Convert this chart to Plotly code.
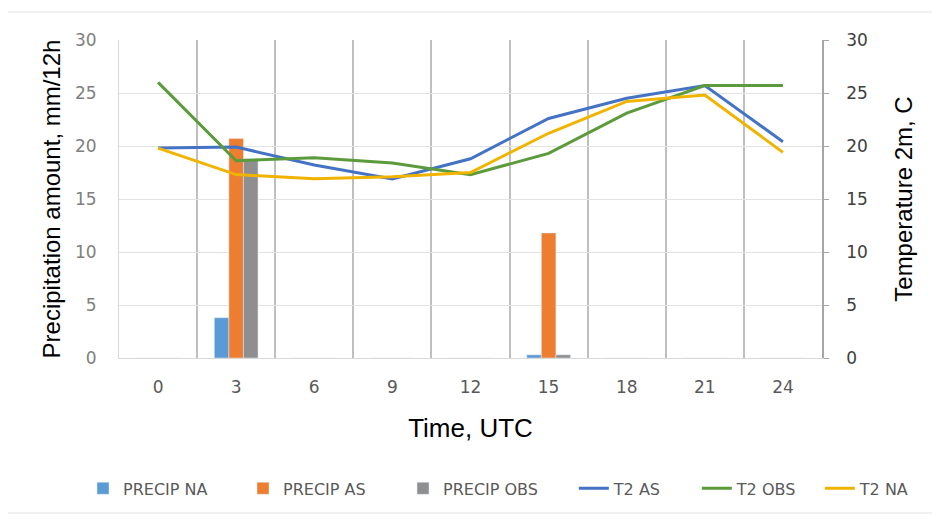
import plotly.graph_objects as go

time_labels = ["0", "3", "6", "9", "12", "15", "18", "21", "24"]
precip_na = [0, 3.8, 0, 0, 0, 0.3, 0, 0, 0]
precip_as = [0, 20.7, 0, 0, 0, 11.8, 0, 0, 0]
precip_obs = [0, 18.8, 0, 0, 0, 0.3, 0, 0, 0]
t2_as = [19.8, 19.9, 18.2, 16.9, 18.8, 22.6, 24.5, 25.7, 20.4]
t2_obs = [26.0, 18.6, 18.9, 18.4, 17.3, 19.3, 23.1, 25.7, 25.7]
t2_na = [19.8, 17.3, 16.9, 17.1, 17.5, 21.2, 24.2, 24.8, 19.4]
y_ticks = [0, 5, 10, 15, 20, 25, 30]

TICK_FONT = "DejaVu Sans"
TITLE_FONT = "Liberation Sans, Arial, sans-serif"

fig = go.Figure()
fig.add_trace(go.Bar(x=time_labels, y=precip_na, name="PRECIP NA", marker_color="#5B9BD5", yaxis="y"))
fig.add_trace(go.Bar(x=time_labels, y=precip_as, name="PRECIP AS", marker_color="#ED7D31", yaxis="y"))
fig.add_trace(go.Bar(x=time_labels, y=precip_obs, name="PRECIP OBS", marker_color="#8F8F8F", yaxis="y"))
fig.add_trace(go.Scatter(x=time_labels, y=t2_as, name="T2 AS", mode="lines", legend="legend2",
                         line=dict(color="#4472C4", width=3), yaxis="y2"))
fig.add_trace(go.Scatter(x=time_labels, y=t2_obs, name="T2 OBS", mode="lines", legend="legend2",
                         line=dict(color="#5B9B3C", width=3), yaxis="y2"))
fig.add_trace(go.Scatter(x=time_labels, y=t2_na, name="T2 NA", mode="lines", legend="legend2",
                         line=dict(color="#F0B400", width=3), yaxis="y2"))

legend_font = dict(family=TICK_FONT, size=16, color="#595959")

# page body has an 8px margin, so the figure is offset by 8px
fig.update_layout(
    width=932, height=511,
    margin=dict(l=111, r=118, t=32, b=161, autoexpand=False),
    paper_bgcolor="white", plot_bgcolor="white",
    barmode="group", bargap=0.44, bargroupgap=0,
    showlegend=True,
    legend=dict(orientation="h", x=-0.0512, xanchor="left", y=-0.41, yanchor="middle",
                font=legend_font, itemwidth=30, tracegroupgap=0,
                entrywidth=115, entrywidthmode="pixels"),
    legend2=dict(orientation="h", x=0.647, xanchor="left", y=-0.41, yanchor="middle",
                 font=legend_font, itemwidth=30, tracegroupgap=0,
                 entrywidth=78, entrywidthmode="pixels"),
    xaxis=dict(type="category", tickson="boundaries", showgrid=True,
               gridcolor="#BFBFBF", gridwidth=2,
               showline=True, linecolor="#D9D9D9", linewidth=1,
               ticks="", tickfont=dict(family=TICK_FONT, size=17, color="#595959"),
               ticklabelstandoff=14,
               title=dict(text="Time, UTC", font=dict(family=TITLE_FONT, size=26, color="#000000"),
                          standoff=22),
               range=[-0.5, 8.5], automargin=False),
    yaxis=dict(range=[0, 30], tickvals=y_ticks, showgrid=True, gridcolor="#E3E3E3", gridwidth=1,
               zeroline=False, showline=True, linecolor="#D9D9D9", linewidth=1,
               ticks="", tickfont=dict(family=TICK_FONT, size=17, color="#808080"),
               ticklabelstandoff=18,
               title=dict(text="Precipitation amount, mm/12h",
                          font=dict(family=TITLE_FONT, size=24, color="#000000"), standoff=7),
               automargin=False),
    yaxis2=dict(range=[0, 30], tickvals=y_ticks, overlaying="y", side="right", showgrid=False,
                zeroline=False, showline=True, linecolor="#A6A6A6", linewidth=1.5,
                ticks="outside", ticklen=5, tickcolor="#A6A6A6",
                tickfont=dict(family=TICK_FONT, size=17, color="#404040"),
                ticklabelstandoff=14,
                title=dict(text="Temperature 2m, C",
                           font=dict(family=TITLE_FONT, size=24, color="#000000"), standoff=28),
                automargin=False),
    shapes=[dict(type="rect", xref="paper", yref="paper",
                 x0=(7 - 119) / 703, x1=(933 - 119) / 703,
                 y0=(358 - 513) / 318, y1=(358 - 12) / 318,
                 line=dict(color="#E3E3E3", width=1), layer="below")],
)

fig.write_html("out.html")
